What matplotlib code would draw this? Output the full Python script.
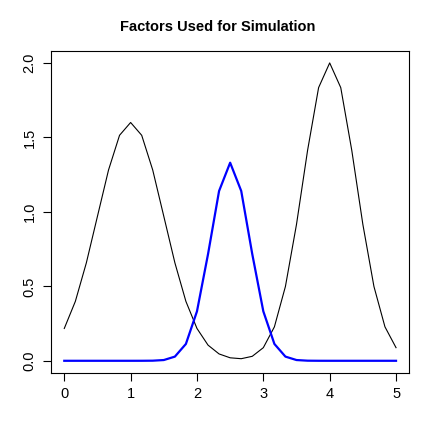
import matplotlib
matplotlib.use("Agg")
import matplotlib.pyplot as plt

plt.rcParams['font.family'] = ['Liberation Sans', 'DejaVu Sans']

x_vals = [0.0, 0.167, 0.333, 0.5, 0.667, 0.833, 1.0, 1.167, 1.333, 1.5, 1.667,
          1.833, 2.0, 2.167, 2.333, 2.5, 2.667, 2.833, 3.0, 3.167, 3.333,
          3.5, 3.667, 3.833, 4.0, 4.167, 4.333, 4.5, 4.667, 4.833, 5.0]

black_vals = [0.217, 0.399, 0.658, 0.970, 1.281, 1.514, 1.600, 1.514, 1.281, 0.970, 0.658,
              0.399, 0.217, 0.105, 0.046, 0.020, 0.014, 0.030, 0.088, 0.228, 0.499,
              0.916, 1.413, 1.834, 2.000, 1.834, 1.413, 0.916, 0.499, 0.228, 0.088]

blue_vals = [0.0, 0.0, 0.0, 0.0, 0.0, 0.0, 0.0, 0.0001, 0.0007, 0.005, 0.028,
             0.113, 0.332, 0.717, 1.140, 1.330, 1.140, 0.717, 0.332, 0.113, 0.028,
             0.005, 0.0007, 0.0001, 0.0, 0.0, 0.0, 0.0, 0.0, 0.0, 0.0]

x_ticks = [0, 1, 2, 3, 4, 5]
x_tick_labels = ["0", "1", "2", "3", "4", "5"]
y_ticks = [0.0, 0.5, 1.0, 1.5, 2.0]
y_tick_labels = ["0.0", "0.5", "1.0", "1.5", "2.0"]
title = "Factors Used for Simulation"

W, H = 436, 436
fig = plt.figure(figsize=(W / 100, H / 100), dpi=100)
left, right, top, bottom = 51, 409.3, 51, 372.7
ax = fig.add_axes([left / W, 1 - bottom / H, (right - left) / W, (bottom - top) / H])

ax.plot(x_vals, black_vals, color='black', lw=0.8)
ax.plot(x_vals, blue_vals, color='#0000ff', lw=1.6)

ax.set_xlim(-0.2, 5.2)
ax.set_ylim(-0.08, 2.08)
ax.set_xticks(x_ticks)
ax.set_xticklabels(x_tick_labels, fontsize=10.5)
ax.set_yticks(y_ticks)
ax.set_yticklabels(y_tick_labels, fontsize=10.5, rotation=90, va='center')
ax.tick_params(direction='out', length=5.5, width=0.8, pad=5)
for s in ax.spines.values():
    s.set_linewidth(0.8)

fig.text(0.5, 1 - 26.7 / H, title, ha='center', va='center',
         fontsize=10.5, fontweight='bold')

fig.savefig("out.png", dpi=100)
